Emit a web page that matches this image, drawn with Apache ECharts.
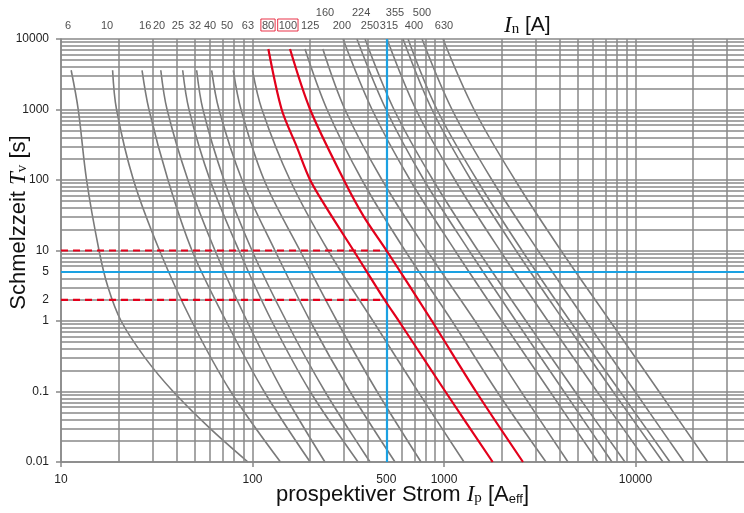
<!DOCTYPE html>
<html>
<head>
<meta charset="utf-8">
<script src="https://cdn.jsdelivr.net/npm/echarts@6/dist/echarts.min.js"></script>
<style>
  html, body { margin: 0; padding: 0; background: #fff; }
  #chart { width: 744px; height: 513px; }
</style>
</head>
<body>
<div id="chart"></div>
<script>
// melting time [s] against prospective current [A]

// time points of the curves
var time6 = [3600, 1000, 100, 10, 3, 1, 0.3, 0.1, 0.03, 0.01];
var timesA = [3600, 1000, 100, 10, 1, 0.1, 0.01];      // 10 … 63 A
var timesB = [7200, 1000, 100, 10, 1, 0.1, 0.01];      // 125, 160 A
var timesC = [10000, 1000, 100, 10, 1, 0.1, 0.01];     // 200 … 630 A
var time80 = [7200, 1000, 300, 100, 37, 10, 2, 1, 0.1, 0.01];
var time100 = [7200, 1000, 100, 30, 10, 1, 0.1, 0.01];

// currents of the gray curves
var i6 = [11.3, 12.3, 13.6, 15.8, 17.6, 20.6, 27.5, 38.5, 60.0, 94.7];
var i10 = [18.6, 19.5, 23.9, 32.7, 48.1, 76.9, 140];
var i16 = [26.5, 28.8, 36.2, 48.3, 72.7, 115, 200];
var i20 = [33.2, 35.8, 46.0, 63.7, 93.6, 144, 239];
var i25 = [43.2, 46.6, 60.0, 85.0, 126, 200, 356];
var i32 = [51.1, 55.1, 71.0, 99.4, 150, 239, 411];
var i40 = [61.2, 66.8, 88.2, 131, 200, 323, 555];
var i50 = [79.4, 87.1, 115, 177, 276, 447, 759];
var i63 = [100, 112, 157, 248, 426, 731, 1272];
var i125 = [188, 245, 373, 626, 1101, 1891, 3409];
var i160 = [233, 304, 475, 815, 1452, 2525, 4442];
var i200 = [297, 421, 665, 1141, 2009, 3577, 6371];
var i224 = [351, 498, 786, 1351, 2377, 4232, 7540];
var i250 = [387, 548, 876, 1505, 2681, 4831, 8813];
var i315 = [504, 714, 1141, 1961, 3491, 6295, 11480];
var i355 = [611, 865, 1384, 2377, 4232, 7631, 13920];
var i400 = [649, 919, 1487, 2555, 4550, 8299, 15140];
var i500 = [768, 1101, 1781, 3097, 5513, 9940, 17920];
var i630 = [988, 1435, 2349, 4083, 7360, 13270, 23910];

// the two red curves
var i80 = [121, 142, 170, 200, 248, 337, 489, 581, 1016, 1796];
var i100 = [157, 200, 300, 382, 501, 865, 1469, 2585];

// In labels above the plot
var ratingNames = ['6', '10', '16', '20', '25', '32', '40', '50', '63', '80', '100',
  '125', '160', '200', '224', '250', '315', '355', '400', '500', '630'];
var ratingAt = [10.9, 17.4, 27.5, 32.5, 40.8, 50.1, 60.0, 73.6, 94.7, 120.5, 153,
  200, 239, 293, 369, 411, 516, 555, 697, 768, 1000];
var upperRow = ['160', '224', '355', '500'];
var boxed = ['80', '100'];

var xLabels = [10, 100, 500, 1000, 10000];
var yLabels = [0.01, 0.1, 1, 2, 5, 10, 100, 1000, 10000];
var markCurrent = 500;
var markTime = 5;
var dashTimes = [10, 2];

var xMin = 10, xMax = 36870, yMin = 0.01, yMax = 10000;

var grayCurves = [
  [time6, i6], [timesA, i10], [timesA, i16], [timesA, i20], [timesA, i25],
  [timesA, i32], [timesA, i40], [timesA, i50], [timesA, i63],
  [timesB, i125], [timesB, i160],
  [timesC, i200], [timesC, i224], [timesC, i250], [timesC, i315],
  [timesC, i355], [timesC, i400], [timesC, i500], [timesC, i630]
];

function pairs(t, a) {
  return a.map(function (v, k) { return [v, t[k]]; });
}

// log grid: 1..9 in every decade
function logGrid(lo, hi) {
  var out = [];
  for (var e = Math.floor(Math.log10(lo)); e <= Math.ceil(Math.log10(hi)); e++) {
    for (var m = 1; m < 10; m++) {
      var v = +(m * Math.pow(10, e)).toPrecision(3);
      if (v >= lo && v <= hi) out.push(v);
    }
  }
  return out;
}

function num(v) { return String(+(+v).toPrecision(4)); }

var gridColor = '#888';
var font = '"Liberation Sans", Arial, sans-serif';
var serif = '"Liberation Serif", "Times New Roman", serif';

var series = [];

series.push({
  type: 'line',
  data: [[xMin, yMin]],
  showSymbol: false,
  silent: true,
  z: 1,
  markLine: {
    silent: true,
    symbol: ['none', 'none'],
    animation: false,
    label: { show: false },
    lineStyle: { color: gridColor, width: 1.5, type: 'solid' },
    emphasis: { disabled: true },
    data: logGrid(xMin, xMax).map(function (v) { return { xAxis: v }; })
      .concat(logGrid(yMin, yMax).map(function (v) { return { yAxis: v }; }))
  }
});

grayCurves.forEach(function (c) {
  series.push({
    type: 'line',
    data: pairs(c[0], c[1]),
    smooth: 0.35,
    showSymbol: false,
    silent: true,
    z: 3,
    lineStyle: { color: '#7a7a7a', width: 1.6 }
  });
});

[[time80, i80], [time100, i100]].forEach(function (c) {
  series.push({
    type: 'line',
    data: pairs(c[0], c[1]),
    smooth: 0.3,
    showSymbol: false,
    silent: true,
    z: 5,
    lineStyle: { color: '#e3001b', width: 2.2 }
  });
});

dashTimes.forEach(function (t) {
  series.push({
    type: 'line',
    data: [[xMin, t], [markCurrent, t]],
    showSymbol: false,
    silent: true,
    z: 5,
    lineStyle: { color: '#e3001b', width: 2.2, type: [7, 5] }
  });
});

series.push({
  type: 'line',
  data: [[markCurrent, markTime]],
  showSymbol: false,
  silent: true,
  z: 4,
  markLine: {
    silent: true,
    symbol: ['none', 'none'],
    animation: false,
    label: { show: false },
    lineStyle: { color: '#1ba1e2', width: 2.2, type: 'solid' },
    data: [{ xAxis: markCurrent }, { yAxis: markTime }]
  }
});

series.push({
  type: 'scatter',
  symbolSize: 0,
  silent: true,
  z: 6,
  data: ratingNames.map(function (n, k) {
    var up = upperRow.indexOf(n) >= 0;
    var box = boxed.indexOf(n) >= 0;
    return {
      name: n,
      value: [ratingAt[k], yMax],
      label: {
        distance: up ? 21 : 8,
        borderColor: box ? '#e3001b' : 'transparent',
        borderWidth: box ? 1 : 0,
        padding: box ? [1, 1, 0, 1] : 0
      }
    };
  }),
  label: {
    show: true,
    position: 'top',
    formatter: '{b}',
    color: '#222',
    fontSize: 11,
    fontFamily: font
  }
});

var chart = echarts.init(document.getElementById('chart'));
chart.setOption({
  animation: false,
  backgroundColor: '#fff',
  grid: { left: 61, right: 0, top: 39, bottom: 51, containLabel: false, outerBoundsMode: 'none' },
  xAxis: {
    type: 'log',
    logBase: 10,
    min: xMin,
    max: xMax,
    axisLine: { lineStyle: { color: gridColor, width: 1.5 } },
    axisTick: { show: true, customValues: [10, 100, 1000, 10000], length: 5, lineStyle: { color: gridColor, width: 1.5 } },
    axisLabel: { customValues: xLabels, color: '#222', fontSize: 12, fontFamily: font, margin: 12, formatter: num },
    splitLine: { show: false },
    name: 'prospektiver Strom {it|I}{sub|p} [A{ssub|eff}]',
    nameLocation: 'middle',
    nameGap: 21,
    nameMoveOverlap: false,
    nameTextStyle: {
      color: '#111', fontSize: 22, fontFamily: font,
      rich: {
        it: { fontFamily: serif, fontStyle: 'italic', fontSize: 23, color: '#111' },
        sub: { fontFamily: serif, fontSize: 15, color: '#111', verticalAlign: 'bottom', padding: [8, 0, 0, 0] },
        ssub: { fontFamily: font, fontSize: 13, color: '#111', verticalAlign: 'bottom', padding: [8, 0, 0, 0] }
      }
    }
  },
  yAxis: {
    type: 'log',
    logBase: 10,
    min: yMin,
    max: yMax,
    axisLine: { show: true, lineStyle: { color: gridColor, width: 1.5 } },
    axisTick: { show: true, customValues: [0.01, 0.1, 1, 10, 100, 1000, 10000], length: 5, lineStyle: { color: gridColor, width: 1.5 } },
    axisLabel: { customValues: yLabels, color: '#222', fontSize: 12, fontFamily: font, margin: 12, formatter: num },
    splitLine: { show: false },
    name: 'Schmelzzeit {it|T}{sub|v} [s]',
    nameLocation: 'middle',
    nameGap: 31,
    nameMoveOverlap: false,
    nameTextStyle: {
      color: '#111', fontSize: 22, fontFamily: font, padding: [0, 0, 0, 56],
      rich: {
        it: { fontFamily: serif, fontStyle: 'italic', fontSize: 23, color: '#111' },
        sub: { fontFamily: serif, fontSize: 15, color: '#111', verticalAlign: 'bottom', padding: [8, 0, 0, 0] }
      }
    }
  },
  graphic: [{
    type: 'text',
    left: 504,
    top: 14,
    silent: true,
    style: {
      text: '{it|I}{sub|n} [A]',
      fill: '#111',
      font: '21px ' + font,
      rich: {
        it: { fontFamily: serif, fontStyle: 'italic', fontSize: 23, fill: '#111' },
        sub: { fontFamily: serif, fontSize: 15, fill: '#111', verticalAlign: 'bottom', padding: [8, 0, 0, 0] }
      }
    }
  }],
  series: series
});
</script>
</body>
</html>
